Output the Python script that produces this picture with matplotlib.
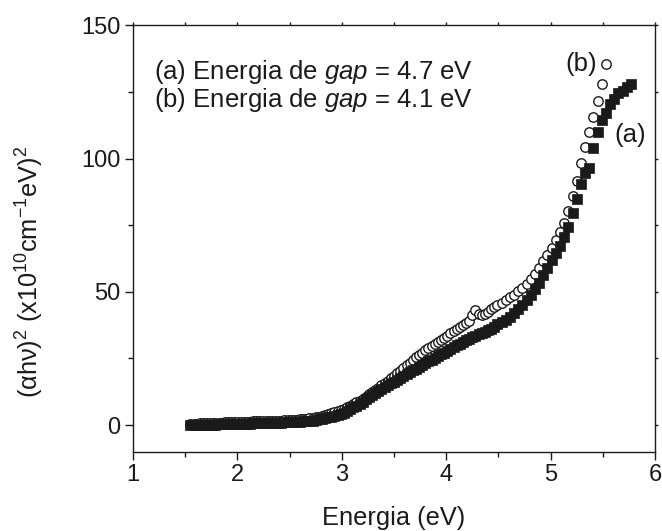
import matplotlib
matplotlib.use("Agg")
import matplotlib.pyplot as plt
from matplotlib.ticker import MultipleLocator

plt.rcParams['font.family'] = ['Liberation Sans', 'DejaVu Sans']
plt.rcParams['mathtext.fontset'] = 'custom'
plt.rcParams['mathtext.rm'] = 'Liberation Sans'
plt.rcParams['mathtext.it'] = 'Liberation Sans:italic'
plt.rcParams['mathtext.bf'] = 'Liberation Sans:bold'

# ---- data ----
energy_shared = [1.55, 1.58, 1.61, 1.64, 1.67, 1.70, 1.73, 1.76, 1.79, 1.82,
                 1.85, 1.88, 1.91, 1.94, 1.97, 2.00, 2.03, 2.06, 2.09, 2.12,
                 2.15, 2.18, 2.21, 2.24, 2.27, 2.30, 2.33, 2.36, 2.39, 2.42,
                 2.45, 2.48, 2.51, 2.54, 2.57, 2.60, 2.63, 2.66, 2.69, 2.72,
                 2.75, 2.78, 2.81, 2.84, 2.87, 2.90, 2.93, 2.96, 2.99,
                 3.02, 3.05, 3.08, 3.11, 3.14, 3.17, 3.20, 3.23, 3.26, 3.29,
                 3.32, 3.35, 3.38, 3.41, 3.44, 3.47, 3.50, 3.53, 3.56, 3.59,
                 3.62, 3.65, 3.68, 3.71, 3.74, 3.77, 3.80, 3.83, 3.86, 3.89,
                 3.92, 3.95, 3.98, 4.01, 4.04, 4.07, 4.10, 4.13, 4.16, 4.19,
                 4.22, 4.25, 4.28, 4.31, 4.34, 4.37, 4.40, 4.43, 4.46, 4.49]

energy_a_high = [4.53, 4.57, 4.61, 4.65, 4.69, 4.73, 4.77, 4.81, 4.85, 4.89,
                 4.93, 4.97, 5.01, 5.05, 5.09, 5.13, 5.17, 5.21, 5.25, 5.29,
                 5.33, 5.37, 5.41, 5.45, 5.49, 5.53, 5.57, 5.61, 5.65, 5.69,
                 5.73, 5.77]
energy_b_high = [4.53, 4.57, 4.61, 4.65, 4.69, 4.73, 4.77, 4.81, 4.85, 4.89,
                 4.93, 4.97, 5.01, 5.05, 5.09, 5.13, 5.17, 5.21, 5.25, 5.29,
                 5.33, 5.37, 5.41, 5.45, 5.49, 5.53]

alpha_a = [0.0, 0.0, 0.1, 0.1, 0.1, 0.2, 0.2, 0.2, 0.2, 0.3,
           0.3, 0.3, 0.3, 0.4, 0.4, 0.4, 0.4, 0.5, 0.5, 0.5,
           0.6, 0.6, 0.6, 0.7, 0.7, 0.7, 0.8, 0.8, 0.9, 0.9,
           1.0, 1.0, 1.1, 1.1, 1.2, 1.3, 1.4, 1.5, 1.6, 1.7,
           1.9, 2.1, 2.3, 2.6, 2.9, 3.2, 3.5, 3.8, 4.2,
           4.6, 5.2, 5.9, 6.6, 7.3, 8.0, 8.8, 9.6, 10.4, 11.2,
           12.0, 12.8, 13.6, 14.3, 15.0, 15.7, 16.3, 17.0, 17.7, 18.4,
           19.1, 19.8, 20.5, 21.2, 21.9, 22.6, 23.2, 23.9, 24.5, 25.1,
           25.8, 26.5, 27.2, 27.9, 28.6, 29.3, 30.0, 30.6, 31.2, 31.8,
           32.4, 33.0, 33.6, 34.2, 34.6, 35.0, 35.5, 36.2, 37.0, 37.8,
           38.6, 39.6, 40.7, 42.0, 43.5, 45.2, 47.0, 49.0, 51.2, 53.5,
           56.2, 59.0, 61.8, 64.5, 67.2, 70.5, 74.5, 79.5, 85.0, 90.5,
           94.5, 96.5, 104.0, 110.0, 114.5, 117.0, 120.5, 122.5, 124.5, 125.5,
           127.0, 128.0]

alpha_b = [0.3, 0.4, 0.5, 0.6, 0.6, 0.7, 0.8, 0.8, 0.8, 0.9,
           0.9, 1.0, 1.0, 1.1, 1.1, 1.1, 1.2, 1.2, 1.3, 1.3,
           1.4, 1.4, 1.4, 1.5, 1.5, 1.5, 1.6, 1.6, 1.7, 1.7,
           1.8, 1.8, 1.9, 1.9, 2.0, 2.1, 2.2, 2.3, 2.5, 2.7,
           2.9, 3.2, 3.5, 3.8, 4.1, 4.5, 4.9, 5.3, 5.7,
           6.1, 6.6, 7.2, 7.8, 8.5, 9.2, 9.9, 10.7, 11.5, 12.3,
           13.2, 14.0, 14.9, 15.8, 16.7, 17.6, 18.5, 19.4, 20.4, 21.4,
           22.4, 23.4, 24.4, 25.4, 26.3, 27.2, 28.0, 28.8, 29.6, 30.4,
           31.2, 32.0, 32.8, 33.6, 34.4, 35.3, 36.1, 36.9, 37.6, 38.3,
           39.2, 41.5, 43.3, 41.8, 41.2, 41.8, 42.6, 43.4, 44.2, 45.0,
           45.8, 46.8, 47.9, 49.0, 50.2, 51.6, 53.0, 54.8, 56.8, 59.0,
           61.5, 64.0, 66.5, 69.5, 72.5, 76.0, 80.5, 86.0, 91.5, 98.5,
           104.5, 110.0, 115.5, 121.5, 128.0, 135.5]

energy_a = energy_shared + energy_a_high
energy_b = energy_shared + energy_b_high

legend_lines = [r"(a) Energia de $\mathit{gap}$ = 4.7 eV",
                r"(b) Energia de $\mathit{gap}$ = 4.1 eV"]
x_ticks = [1, 2, 3, 4, 5, 6]
y_ticks = [0, 50, 100, 150]

# ---- figure ----
W, H = 662, 531
fig = plt.figure(figsize=(W / 100, H / 100), dpi=100)
ax = fig.add_axes([133.0 / W, 1 - 451.7 / H, (655 - 133.0) / W, (451.7 - 25.5) / H])

ink = '#1a1a1a'
ax.plot(energy_b, alpha_b, linestyle='none', marker='o', markersize=6.8,
        markerfacecolor='white', markeredgecolor=ink, markeredgewidth=1.0, zorder=2)
ax.plot(energy_a, alpha_a, linestyle='none', marker='s', markersize=6.8,
        markerfacecolor=ink, markeredgecolor=ink, markeredgewidth=0.5, zorder=3)

ax.set_xlim(1, 6)
ax.set_ylim(-10, 150)
ax.set_xticks(x_ticks)
ax.set_yticks(y_ticks)
ax.xaxis.set_minor_locator(MultipleLocator(0.5))
ax.yaxis.set_minor_locator(MultipleLocator(25))

for s in ax.spines.values():
    s.set_linewidth(1.0)
    s.set_color(ink)

ax.tick_params(axis='both', which='major', direction='out', length=6, width=1.0,
               labelsize=17, pad=3, colors=ink, labelcolor=ink)
ax.tick_params(axis='both', which='minor', direction='out', length=3.5, width=1.0, colors=ink)
ax.tick_params(axis='both', which='both', top=True, right=True)
for t in ax.xaxis.get_major_ticks() + ax.xaxis.get_minor_ticks():
    t.tick2line.set_markersize(2)
for t in ax.yaxis.get_major_ticks() + ax.yaxis.get_minor_ticks():
    t.tick2line.set_markersize(2)

ax.text(1.205, 132.4, legend_lines[0], fontsize=18.5, color=ink, va='center', ha='left')
ax.text(1.205, 121.9, legend_lines[1], fontsize=18.5, color=ink, va='center', ha='left')

ax.text(5.29, 135.7, "(b)", fontsize=18.5, color=ink, ha='center', va='center')
ax.text(5.76, 109, "(a)", fontsize=18.5, color=ink, ha='center', va='center')

fig.text(394 / W, 1 - 518 / H, "Energia (eV)", fontsize=18.3, color=ink,
         ha='center', va='center')
fig.text(30 / W, 1 - 272 / H,
         r"$\mathrm{(αhν)^2\ (x10^{10}cm^{-1}eV)^2}$",
         fontsize=18.3, color=ink, rotation=90, ha='center', va='center')

fig.savefig("out.png", dpi=100)
